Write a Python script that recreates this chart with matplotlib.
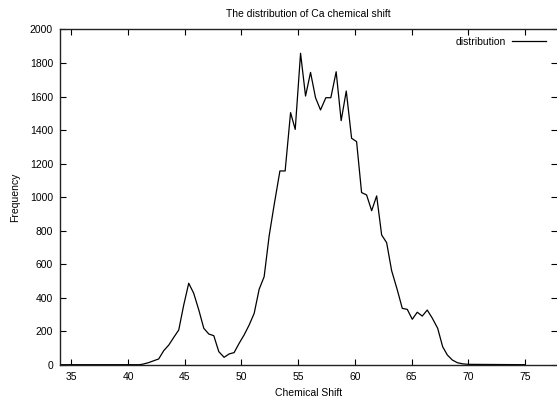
import matplotlib
matplotlib.use("Agg")
import matplotlib.pyplot as plt

# chemical shift (ppm) and counts
shift = [34.0, 41.0,
         41.3, 41.8, 42.2, 42.7, 43.15, 43.59, 44.03, 44.47, 44.91, 45.35,
         45.79, 46.24, 46.68, 47.12, 47.56, 48.0, 48.47, 48.91, 49.35, 49.79,
         50.23, 50.68, 51.12, 51.56, 52.0, 52.44, 52.88, 53.39, 53.85, 54.33,
         54.74, 55.21, 55.65, 56.09, 56.53, 56.97, 57.44, 57.88, 58.35, 58.79,
         59.24, 59.71, 60.15, 60.59, 61.03, 61.48, 61.92, 62.36, 62.80, 63.24,
         63.74, 64.18, 64.62, 65.06, 65.50, 65.94, 66.38, 66.83, 67.30, 67.74,
         68.15, 68.59, 69.03, 69.5, 70.0, 75.0]
freq = [0, 0,
        3, 12, 22, 34, 84, 117, 163, 207, 356, 486,
        426, 326, 217, 183, 173, 78, 44, 64, 72, 127,
        177, 237, 306, 450, 525, 768, 953, 1156, 1156, 1504,
        1404, 1858, 1603, 1744, 1593, 1520, 1593, 1593, 1748, 1456,
        1633, 1351, 1331, 1027, 1013, 919, 1007, 774, 728, 561,
        446, 336, 330, 271, 313, 290, 326, 277, 217, 107,
        58, 28, 12, 5, 2, 0]
xticks = [35, 40, 45, 50, 55, 60, 65, 70, 75]
yticks = list(range(0, 2001, 200))

plt.rcParams['font.family'] = ['Liberation Sans', 'DejaVu Sans']
plt.rcParams['font.size'] = 7.5

fig = plt.figure(figsize=(5.57, 3.97), dpi=100)
ax = fig.add_axes([0.1077, 0.0814, 0.8923, 0.8443])

ax.plot(shift, freq, color='black', lw=0.9, label='distribution')

ax.set_xlim(34, 77.82)
ax.set_ylim(0, 2000)
ax.set_xticks(xticks)
ax.set_yticks(yticks)
ax.tick_params(direction='in', length=4, width=0.8, top=True, right=True, pad=5)
for s in ax.spines.values():
    s.set_linewidth(1.0)
    s.set_color('#222222')
ax.spines['right'].set_visible(False)  # border falls just outside the picture

ax.set_title('The distribution of Ca chemical shift', fontsize=7.5, pad=9)
ax.set_xlabel('Chemical Shift', labelpad=4.5)
ax.set_ylabel('Frequency', labelpad=7)

ax.legend(loc='upper right', bbox_to_anchor=(0.992, 1.0), frameon=False,
          markerfirst=False, handlelength=3.2, handletextpad=0.6,
          borderaxespad=0.3)

fig.savefig('out.png', dpi=100)
